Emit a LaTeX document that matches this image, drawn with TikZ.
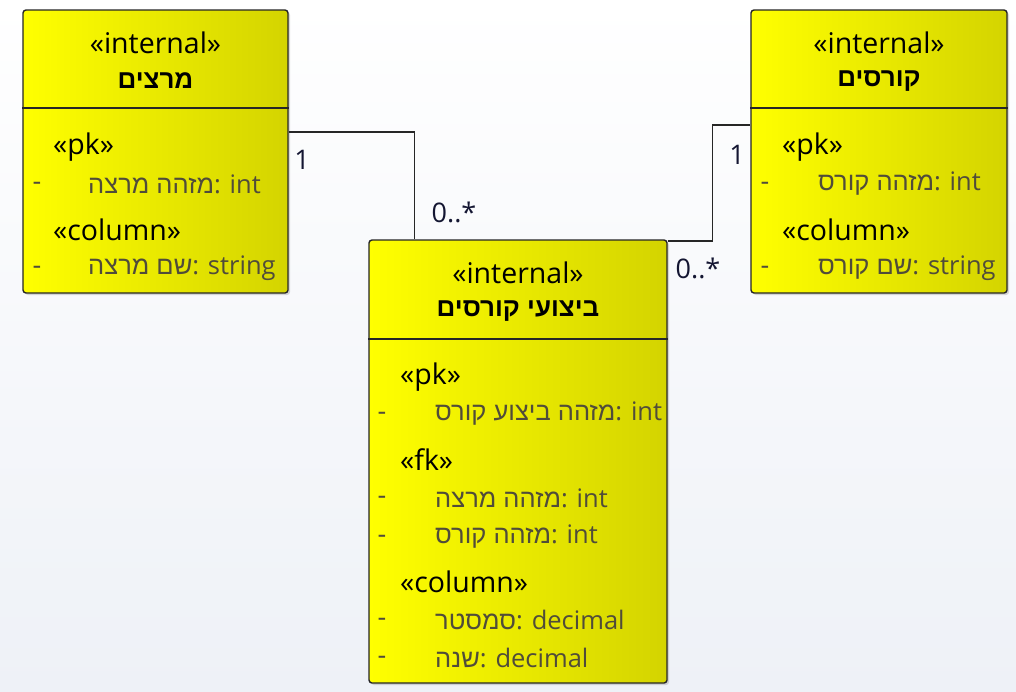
\documentclass[tikz,border=0pt]{standalone}
\usepackage{fontspec}
\setmainfont{Open Sans}
\newfontfamily\hebfont[Script=Hebrew]{Liberation Sans}
\TeXXeTstate=1
\usetikzlibrary{shadows}

\definecolor{boxyellow}{RGB}{255,255,0}
\definecolor{boxolive}{RGB}{212,212,0}
\definecolor{attrgray}{RGB}{80,76,58}
\definecolor{bgbottom}{RGB}{238,241,247}
\definecolor{multnavy}{RGB}{20,22,50}

% hebrew column name inside an attribute line
\newcommand{\hebattr}[1]{{\hebfont\fontsize{25.5}{31}\selectfont\beginR #1\endR}}

\tikzset{
	tablebox/.style={draw=black!85, line width=1.4pt, rounded corners=3pt,
		left color=boxyellow, right color=boxolive,
		drop shadow={opacity=0.3, shadow xshift=2pt, shadow yshift=-2pt}},
	divider/.style={black!85, line width=1.4pt},
	stereo/.style={inner sep=0, anchor=west, font=\fontsize{28.5}{32}\selectfont},
	tname/.style={inner sep=0, font=\fontsize{26}{30}\selectfont\hebfont\bfseries},
	attr/.style={inner sep=0, anchor=west, text=attrgray, font=\fontsize{25.5}{31}\selectfont},
	minus/.style={inner sep=0, text=attrgray, font=\fontsize{27}{31}\selectfont},
	assoc/.style={black!85, line width=1.4pt},
	mult/.style={inner sep=0, text=multnavy, font=\fontsize{27}{31}\selectfont}
}

\begin{document}
\begin{tikzpicture}[x=1pt, y=-1pt]
	% background
	\shade[top color=white, bottom color=bgbottom] (0,0) rectangle (1016,691);
	\useasboundingbox (0,0) rectangle (1016,691);

	% lecturers table
	\node[tablebox, minimum width=265pt, minimum height=283pt] (lect) at (155.5,151.5) {};
	\draw[divider] (lect.west |- 0,108) -- (lect.east |- 0,108);
	\node[stereo, anchor=center] (lect-st) at (155.5,43) {«internal»};
	\node[tname] (lect-name) at (155.5,81) {\beginR מרצים\endR};
	\node[stereo] (lect-pk) at (53,147) {«pk»};
	\node[minus] (lect-m1) at (37,186) {-};
	\node[attr] (lect-a1) at (88,184) {\hebattr{מזהה מרצה}: int};
	\node[stereo] (lect-col) at (53,230) {«column»};
	\node[minus] (lect-m2) at (37,270) {-};
	\node[attr] (lect-a2) at (88,268) {\hebattr{שם מרצה}: string};

	% courses table
	\node[tablebox, minimum width=256pt, minimum height=283pt] (crs) at (879,151.5) {};
	\draw[divider] (crs.west |- 0,108) -- (crs.east |- 0,108);
	\node[stereo, anchor=center] (crs-st) at (879,43) {«internal»};
	\node[tname] (crs-name) at (879,81) {\beginR קורסים\endR};
	\node[stereo] (crs-pk) at (782,147) {«pk»};
	\node[minus] (crs-m1) at (765,186) {-};
	\node[attr] (crs-a1) at (818,184) {\hebattr{מזהה קורס}: int};
	\node[stereo] (crs-col) at (782,230) {«column»};
	\node[minus] (crs-m2) at (765,270) {-};
	\node[attr] (crs-a2) at (818,268) {\hebattr{שם קורס}: string};

	% course runs table
	\node[tablebox, minimum width=298pt, minimum height=443pt] (runs) at (518,461.5) {};
	\draw[divider] (runs.west |- 0,339) -- (runs.east |- 0,339);
	\node[stereo, anchor=center] (runs-st) at (518,273) {«internal»};
	\node[tname] (runs-name) at (518,311) {\beginR ביצועי קורסים\endR};
	\node[stereo] (runs-pk) at (400,377) {«pk»};
	\node[minus] (runs-m1) at (382,416) {-};
	\node[attr] (runs-a1) at (435,414) {\hebattr{מזהה ביצוע קורס}: int};
	\node[stereo] (runs-fk) at (400,460) {«fk»};
	\node[minus] (runs-m2) at (382,500) {-};
	\node[attr] (runs-a2) at (435,498) {\hebattr{מזהה מרצה}: int};
	\node[minus] (runs-m3) at (382,539) {-};
	\node[attr] (runs-a3) at (435,537) {\hebattr{מזהה קורס}: int};
	\node[stereo] (runs-col) at (400,582) {«column»};
	\node[minus] (runs-m4) at (382,622) {-};
	\node[attr] (runs-a4) at (435,620) {\hebattr{סמסטר}: decimal};
	\node[minus] (runs-m5) at (382,660) {-};
	\node[attr] (runs-a5) at (435,658) {\hebattr{שנה}: decimal};

	% associations
	\draw[assoc] ([yshift=19.5pt]lect.east) -| ([xshift=46pt]runs.north west);
	\draw[assoc] ([yshift=-1.5pt]runs.north east) -- ++(45,0) |- ([yshift=26.5pt]crs.west);

	% multiplicities
	\node[mult] (m-lect) at (302,160) {1};
	\node[mult] (m-runs-l) at (454,212) {0..*};
	\node[mult] (m-crs) at (737,155) {1};
	\node[mult] (m-runs-r) at (698,268) {0..*};
\end{tikzpicture}
\end{document}
